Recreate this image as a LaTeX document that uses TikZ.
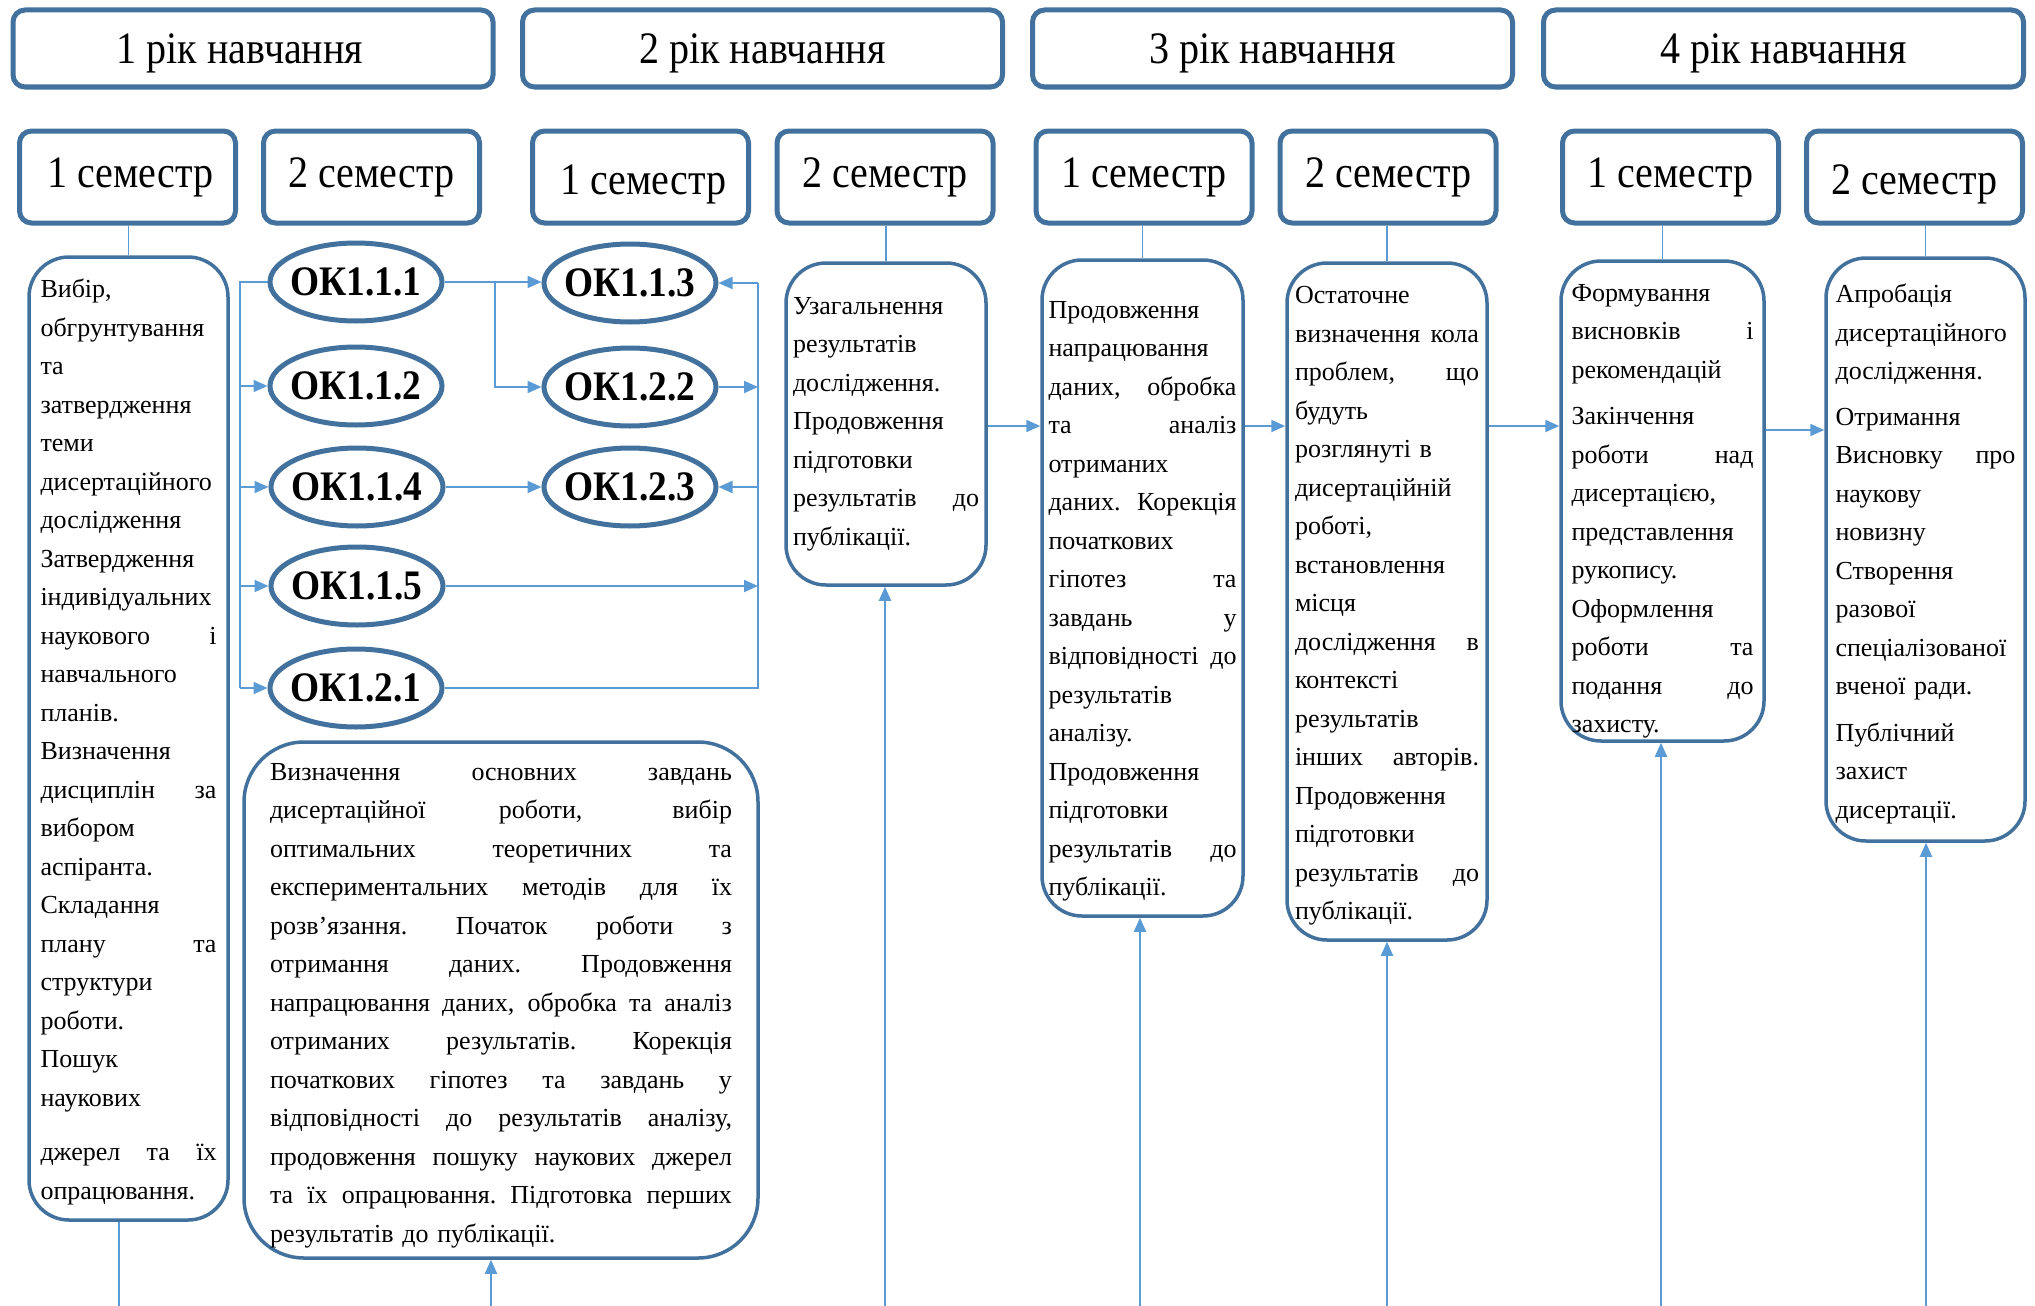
\documentclass[tikz,border=0pt]{standalone}
\usepackage{fontspec}
\setmainfont{Liberation Serif}
\newfontfamily\condf{Liberation Serif}[FakeStretch=0.89]
\usetikzlibrary{shapes.geometric,arrows.meta}
\setlength{\parindent}{0pt}
\newcommand{\jline}[1]{\leavevmode\hbox to \hsize{\spaceskip=0.25em plus 1fil\relax\xspaceskip=0.25em plus 1fil\relax #1}}
\newcommand{\topstrut}[1]{\rule{0pt}{#1}}
\definecolor{bord}{HTML}{41719C}
\definecolor{lblue}{HTML}{5B9BD5}
\begin{document}
\begin{tikzpicture}[x=1pt,y=-1pt,
  yr/.style={draw=bord, line width=5pt, rounded corners=12pt, inner sep=0pt,
    minimum width=480pt, minimum height=77pt, text height=30.6pt, text depth=0pt,
    font=\condf\fontsize{45}{50}\selectfont},
  sem/.style={draw=bord, line width=5pt, rounded corners=12pt, inner sep=0pt,
    minimum width=216pt, minimum height=92pt, text height=30.6pt, text depth=10pt,
    font=\condf\fontsize{45}{50}\selectfont},
  semlow/.style={sem, text height=34pt, text depth=0pt},
  ok/.style={ellipse, draw=bord, line width=5pt, inner sep=0pt,
    minimum width=172pt, minimum height=78pt, font=\condf\fontsize{42}{44}\selectfont\bfseries},
  body/.style={draw=bord, line width=3.5pt, rounded corners=40pt, inner sep=0pt,
    align=left, font=\fontsize{26}{38.5}\selectfont},
  cline/.style={draw=lblue, line width=2pt},
  tline/.style={draw=lblue, line width=1.5pt},
  arr/.style={cline, -{Triangle[length=14pt,width=12pt]}}
]
\useasboundingbox (0,0) rectangle (2035,1306);

% year headers
\node[yr] (Y1) at (253,48.5) {1 рік навчання\hspace*{26pt}};
\node[yr] (Y2) at (762.5,48.5) {2 рік навчання};
\node[yr] (Y3) at (1272.5,48.5) {3 рік навчання};
\node[yr] (Y4) at (1783.5,48.5) {4 рік навчання};

% semesters
\node[sem] (S1a) at (127.5,177) {\hspace*{6pt}1 семестр};
\node[sem] (S1b) at (371.5,177) {2 семестр};
\node[semlow] (S2a) at (640.5,177) {\hspace*{6pt}1 семестр};
\node[sem] (S2b) at (885,177) {2 семестр};
\node[sem] (S3a) at (1144,177) {1 семестр};
\node[sem] (S3b) at (1388,177) {2 семестр};
\node[sem] (S4a) at (1670.5,177) {1 семестр};
\node[semlow] (S4b) at (1914.5,177) {2 семестр};

% components
\node[ok] (OK111) at (356,282) {\makebox[0pt]{ОК1.1.1}};
\node[ok] (OK112) at (356,386) {\makebox[0pt]{ОК1.1.2}};
\node[ok] (OK114) at (357,487) {\makebox[0pt]{ОК1.1.4}};
\node[ok] (OK115) at (357,586) {\makebox[0pt]{ОК1.1.5}};
\node[ok] (OK121) at (356,688) {\makebox[0pt]{ОК1.2.1}};
\node[ok] (OK113) at (630,283) {\makebox[0pt]{ОК1.1.3}};
\node[ok] (OK122) at (630,387) {\makebox[0pt]{ОК1.2.2}};
\node[ok] (OK123) at (630,487) {\makebox[0pt]{ОК1.2.3}};

% body boxes
\node[body, minimum width=199pt, minimum height=963pt, text width=176pt] (B1a) at (128.5,738.5) {%
\topstrut{26pt}Вибір,\\
обгрунтування\\
та\\
затвердження\\
теми\\
дисертаційного\\
дослідження\\
Затвердження\\
індивідуальних\\
\jline{наукового\hfill і}\\
навчального\\
планів.\\
Визначення\\
\jline{дисциплін\hfill за}\\
вибором\\
аспіранта.\\
Складання\\
\jline{плану\hfill та}\\
структури\\
роботи.\\
Пошук\\
наукових\\[16pt]
\jline{джерел\hfill та\hfill їх}\\
опрацювання.};

\node[body, rounded corners=60pt, minimum width=514pt, minimum height=516pt, text width=462pt] (B1b) at (501,1000) {%
\jline{\topstrut{28pt}Визначення основних завдань}\\
\jline{дисертаційної роботи, вибір}\\
\jline{оптимальних теоретичних та}\\
\jline{експериментальних методів для їх}\\
\jline{розв’язання. Початок роботи з}\\
\jline{отримання даних. Продовження}\\
\jline{напрацювання даних, обробка та аналіз}\\
\jline{отриманих результатів. Корекція}\\
\jline{початкових гіпотез та завдань у}\\
\jline{відповідності до результатів аналізу,}\\
\jline{продовження пошуку наукових джерел}\\
\jline{та їх опрацювання. Підготовка перших}\\
результатів до публікації.};

\node[body, minimum width=200pt, minimum height=322pt, text width=186pt] (B2b) at (886,424) {%
Узагальнення\\
результатів\\
дослідження.\\
Продовження\\
підготовки\\
\jline{результатів\hfill до}\\
публікації.};

\node[body, minimum width=201pt, minimum height=656pt, text width=188pt] (B3a) at (1142.5,588) {%
\topstrut{44pt}Продовження\\
напрацювання\\
\jline{даних,\hfill обробка}\\
\jline{та\hfill аналіз}\\
отриманих\\
\jline{даних.\hfill Корекція}\\
початкових\\
\jline{гіпотез\hfill та}\\
\jline{завдань\hfill у}\\
\jline{відповідності\hfill до}\\
результатів\\
аналізу.\\
Продовження\\
підготовки\\
\jline{результатів\hfill до}\\
публікації.};

\node[body, minimum width=200pt, minimum height=677pt, text width=184pt] (B3b) at (1387,601.5) {%
\topstrut{26pt}Остаточне\\
\jline{визначення\hfill кола}\\
\jline{проблем,\hfill що}\\
будуть\\
розглянуті в\\
дисертаційній\\
роботі,\\
встановлення\\
місця\\
\jline{дослідження\hfill в}\\
контексті\\
результатів\\
\jline{інших\hfill авторів.}\\
Продовження\\
підготовки\\
\jline{результатів\hfill до}\\
публікації.};

\node[body, minimum width=203pt, minimum height=480pt, text width=182pt] (B4a) at (1662.5,501) {%
\topstrut{38pt}Формування\\
\jline{висновків\hfill і}\\
рекомендацій\\[8pt]
Закінчення\\
\jline{роботи\hfill над}\\
дисертацією,\\
представлення\\
рукопису.\\
Оформлення\\
\jline{роботи\hfill та}\\
\jline{подання\hfill до}\\
захисту.};

\node[body, minimum width=199pt, minimum height=583pt, text width=180pt] (B4b) at (1925.5,549.5) {%
\topstrut{28pt}Апробація\\
дисертаційного\\
дослідження.\\[7pt]
Отримання\\
\jline{Висновку\hfill про}\\
наукову\\
новизну\\
Створення\\
разової\\
спеціалізованої\\
вченої ради.\\[8pt]
Публічний\\
захист\\
дисертації.};

% semester -> body links
\draw[tline] (B1a.north |- S1a.south) -- (B1a.north);
\draw[tline] (B2b.north |- S2b.south) -- (B2b.north);
\draw[tline] (B3a.north |- S3a.south) -- (B3a.north);
\draw[tline] (B3b.north |- S3b.south) -- (B3b.north);
\draw[tline] (B4a.north |- S4a.south) -- (B4a.north);
\draw[tline] (B4b.north |- S4b.south) -- (B4b.north);

% buses among components
\coordinate (lx) at (240,0);
\coordinate (mx) at (495,0);
\coordinate (rx) at (758,0);
\draw[cline] (OK111.west) -- (lx |- OK111.west) -- (lx |- OK121.west);
\draw[arr] (lx |- OK112.west) -- (OK112.west);
\draw[arr] (lx |- OK114.west) -- (OK114.west);
\draw[arr] (lx |- OK115.west) -- (OK115.west);
\draw[arr] (lx |- OK121.west) -- (OK121.west);

\draw[arr] (OK111.east) -- (OK111.east -| OK113.west);
\draw[arr] (mx |- OK111.east) |- (OK122.west);
\draw[arr] (OK114.east) -- (OK114.east -| OK123.west);

\draw[cline] (OK121.east) -- (rx |- OK121.east) -- (rx |- OK113.east);
\draw[arr] (rx |- OK113.east) -- (OK113.east);
\draw[arr] (rx |- OK123.east) -- (OK123.east);
\draw[arr] (OK122.east) -- (rx |- OK122.east);
\draw[arr] (OK115.east) -- (rx |- OK115.east);

% horizontal flow between body boxes
\coordinate (hy) at (0,426);
\coordinate (hy2) at (0,430);
\draw[arr] (B2b.east |- hy) -- (B3a.west |- hy);
\draw[arr] (B3a.east |- hy) -- (B3b.west |- hy);
\draw[arr] (B3b.east |- hy) -- (B4a.west |- hy);
\draw[arr] (B4a.east |- hy2) -- (B4b.west |- hy2);

% lines from the bottom edge
\coordinate (e1) at (119,1306);
\coordinate (e2) at (491,1306);
\coordinate (e3) at (885,1306);
\coordinate (e4) at (1140,1306);
\coordinate (e5) at (1387,1306);
\coordinate (e6) at (1661,1306);
\coordinate (e7) at (1926,1306);
\draw[cline] (e1) -- (e1 |- B1a.south);
\draw[arr] (e2) -- (e2 |- B1b.south);
\draw[arr] (e3) -- (e3 |- B2b.south);
\draw[arr] (e4) -- (e4 |- B3a.south);
\draw[arr] (e5) -- (e5 |- B3b.south);
\draw[arr] (e6) -- (e6 |- B4a.south);
\draw[arr] (e7) -- (e7 |- B4b.south);
\end{tikzpicture}
\end{document}
